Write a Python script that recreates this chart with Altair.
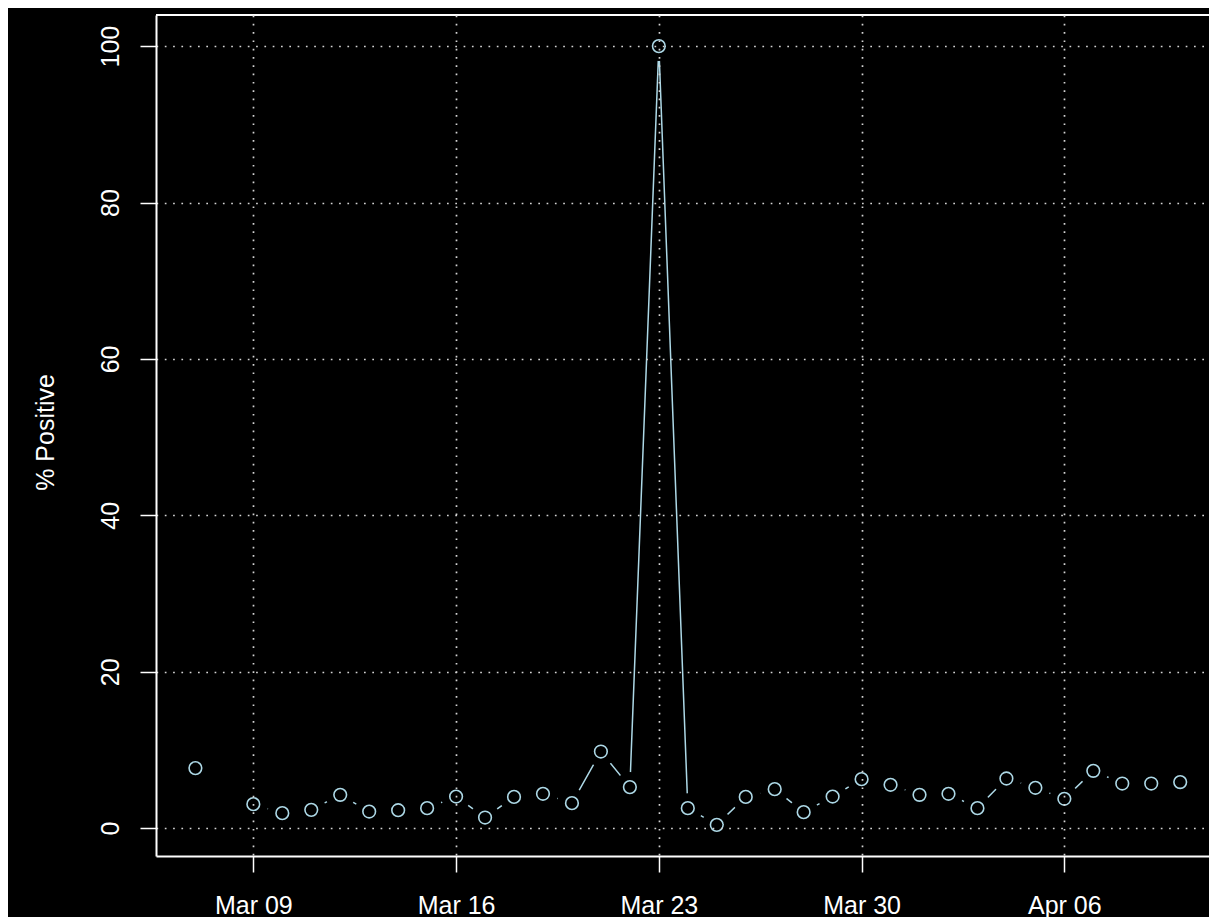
import altair as alt
import pandas as pd

dates = pd.date_range("2020-03-07", "2020-04-10", freq="D")
pct_positive = [
    7.68, None, 3.07, 1.92, 2.34, 4.26, 2.12, 2.30, 2.56, 4.04,
    1.36, 4.00, 4.39, 3.20, 9.80, 5.25, 100.0, 2.56, 0.42, 4.00,
    4.99, 2.05, 4.04, 6.27, 5.54, 4.26, 4.39, 2.56, 6.35, 5.16,
    3.75, 7.33, 5.71, 5.71, 5.89,
]
y_ticks = [0, 20, 40, 60, 80, 100]
x_tick_days = [(3, 9), (3, 16), (3, 23), (3, 30), (4, 6)]

df = pd.DataFrame({"date": dates, "pct": pct_positive})
df["seg"] = df["pct"].isna().cumsum()
df = df.dropna().reset_index(drop=True)

W, H = 1053, 841
FONT = "Liberation Sans"
BLUE = "#ADD8E6"

x_enc = alt.X(
    "date:T",
    scale=alt.Scale(
        domain=[
            alt.DateTime(year=2020, month=3, date=5, hours=15, minutes=21),
            alt.DateTime(year=2020, month=4, date=10, hours=23, minutes=52),
        ],
        nice=False,
    ),
    axis=alt.Axis(
        values=[alt.DateTime(year=2020, month=m, date=d) for m, d in x_tick_days],
        format="%b %d",
        title=None,
        labelFont=FONT, labelFontSize=25, labelColor="white",
        labelBaseline="alphabetic", labelPadding=41,
        labelFlush=False, labelOverlap=False, labelBound=False,
        tickSize=16, tickWidth=1.5, tickColor="white",
        domainColor="white", domainWidth=2,
        grid=True, gridColor="lightgray", gridDash=[1.7, 6.6], gridWidth=1.7,
        zindex=1,
    ),
)
y_enc = alt.Y(
    "pct:Q",
    scale=alt.Scale(domain=[-3.56, 103.98], nice=False, zero=False),
    axis=alt.Axis(
        values=y_ticks,
        title="% Positive",
        titleFont=FONT, titleFontSize=25, titleFontWeight="normal", titleColor="white",
        titleAngle=270, titleBaseline="alphabetic", titleAlign="center",
        titleX=-103, titleY=417,
        labelFont=FONT, labelFontSize=25, labelColor="white",
        labelAngle=270, labelAlign="center", labelBaseline="alphabetic",
        labelPadding=22, labelFlush=False, labelOverlap=False, labelBound=False,
        tickSize=16, tickWidth=1.5, tickColor="white",
        domainColor="white", domainWidth=2,
        grid=True, gridColor="lightgray", gridDash=[1.7, 6.6], gridWidth=1.7,
        zindex=1,
    ),
)

base = alt.Chart(df)

line = base.mark_line(color=BLUE, strokeWidth=1.5).encode(
    x=x_enc, y=y_enc, detail="seg:N"
)
gaps = base.mark_point(
    shape="circle", filled=True, color="black", size=900, opacity=1
).encode(x=x_enc, y=y_enc)
pts = base.mark_point(
    shape="circle", filled=False, color=BLUE, size=160, strokeWidth=1.6, opacity=1
).encode(x=x_enc, y=y_enc)

top_frame = alt.Chart(alt.Data(values=[{"k": 1}])).mark_rule(
    color="white", strokeWidth=2
).encode(x=alt.value(0), x2=alt.value(W), y=alt.value(0))

chart = (
    alt.layer(line, gaps, pts, top_frame)
    .properties(
        width=W,
        height=H,
        background="black",
        autosize=alt.AutoSizeParams(type="none"),
        padding={"left": 148, "top": 7, "right": 0, "bottom": 61},
    )
    .configure_view(strokeWidth=0)
)

chart.save("out.html", embed_options={"renderer": "svg", "actions": False})
